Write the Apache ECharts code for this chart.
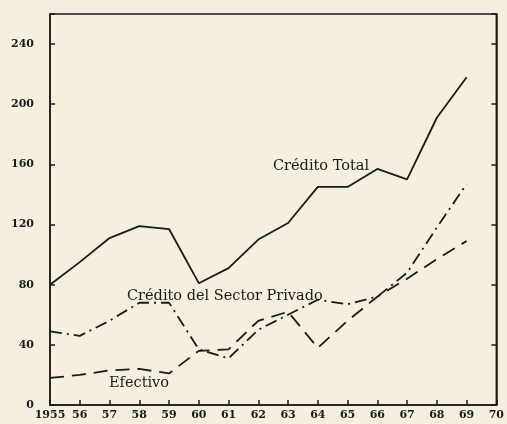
<!DOCTYPE html>
<html>
<head>
<meta charset="utf-8">
<script src="https://cdn.jsdelivr.net/npm/echarts@6/dist/echarts.min.js"></script>
<style>
  html, body { margin: 0; padding: 0; background: #f4efdf; }
  #main { width: 507px; height: 424px; }
</style>
</head>
<body>
<div id="main"></div>
<script>
var years = [1955, 1956, 1957, 1958, 1959, 1960, 1961, 1962, 1963, 1964, 1965, 1966, 1967, 1968, 1969];
var creditoTotal = [80, 95, 111, 119, 117, 81, 91, 110, 121, 145, 145, 157, 150, 191, 218];
var creditoPrivado = [49, 46, 56, 68, 68, 37, 31, 50, 60, 70, 67, 72, 88, 118, 147];
var efectivo = [18, 20, 23, 24, 21, 36, 37, 56, 62, 38, 56, 72, 84, 97, 109];
var yTicks = [0, 40, 80, 120, 160, 200, 240];

function pairs(vals) {
    return years.map(function (y, i) { return [y, vals[i]]; });
}

var ink = '#1c1a17';
var myChart = echarts.init(document.getElementById('main'));
var option = {
    backgroundColor: '#f4efdf',
    animation: false,
    grid: {
        left: 50, right: 5, top: 14, bottom: 19,
        show: true, borderColor: ink, borderWidth: 1.5
    },
    xAxis: {
        type: 'value',
        min: 1955, max: 1970, interval: 1,
        axisLine: { lineStyle: { color: ink, width: 1.5 } },
        axisTick: { inside: true, length: 5, lineStyle: { color: ink, width: 1.5 } },
        splitLine: { show: false },
        axisLabel: {
            color: ink, fontSize: 11, fontWeight: 'bold', margin: 5,
            fontFamily: 'DejaVu Serif',
            formatter: function (v) { return v === 1955 ? '1955' : String(v).slice(2); }
        }
    },
    yAxis: [{
        type: 'value',
        min: 0, max: 260, interval: 40,
        axisLine: { show: true, lineStyle: { color: ink, width: 1.5 } },
        axisTick: { show: true, inside: true, length: 5, lineStyle: { color: ink, width: 1.5 } },
        splitLine: { show: false },
        axisLabel: {
            color: ink, fontSize: 11, fontWeight: 'bold', margin: 16,
            fontFamily: 'DejaVu Serif',
            formatter: function (v) { return yTicks.indexOf(v) >= 0 ? String(v) : ''; }
        }
    }, {
        type: 'value', position: 'right',
        min: 0, max: 260, interval: 40,
        axisLine: { show: true, lineStyle: { color: ink, width: 1.5 } },
        axisTick: { show: true, inside: true, length: 5, lineStyle: { color: ink, width: 1.5 } },
        splitLine: { show: false },
        axisLabel: { show: false }
    }],
    series: [{
        name: 'Crédito Total',
        type: 'line',
        data: pairs(creditoTotal),
        symbol: 'none',
        lineStyle: { color: ink, width: 1.8, type: 'solid' }
    }, {
        name: 'Crédito del Sector Privado',
        type: 'line',
        data: pairs(creditoPrivado),
        symbol: 'none',
        lineStyle: { color: ink, width: 1.8, type: [12, 5, 2, 5] }
    }, {
        name: 'Efectivo',
        type: 'line',
        data: pairs(efectivo),
        symbol: 'none',
        lineStyle: { color: ink, width: 1.8, type: [14, 8] }
    }],
    graphic: [{
        type: 'text', left: 273, top: 159,
        style: { text: 'Crédito Total', fill: ink, font: '14.5px "DejaVu Serif"' }
    }, {
        type: 'text', left: 127, top: 289,
        style: { text: 'Crédito del Sector Privado', fill: ink, font: '14.5px "DejaVu Serif"' }
    }, {
        type: 'text', left: 109, top: 376,
        style: { text: 'Efectivo', fill: ink, font: '14.5px "DejaVu Serif"' }
    }]
};
myChart.setOption(option);
</script>
</body>
</html>
